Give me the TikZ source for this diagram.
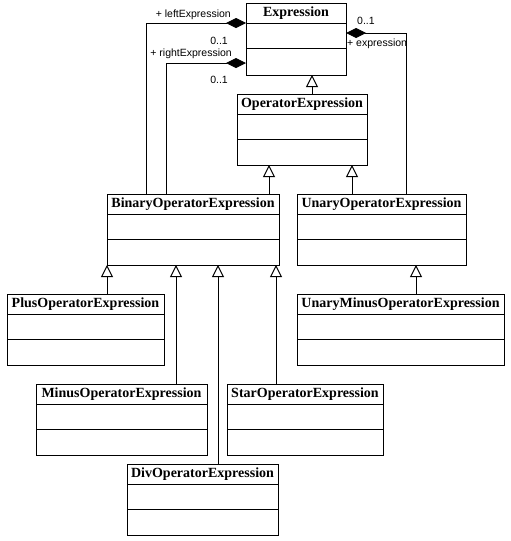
\documentclass[tikz,border=0pt]{standalone}
\usepackage{fontspec}
\setmainfont{Liberation Serif}
\newfontfamily\labelfont{Liberation Sans}
\usetikzlibrary{arrows.meta}

\tikzset{
  classbox/.style={draw, line width=1pt, inner sep=0pt, outer sep=0pt, fill=white},
  classtitle/.style={font=\fontsize{14}{16}\selectfont\bfseries, inner sep=0pt},
  rolelabel/.style={font=\labelfont\fontsize{10.5}{12}\selectfont, inner sep=0pt},
  gen/.style={line width=1pt, -{Triangle[open, width=12pt, length=12pt, line width=1pt]}},
  agg/.style={line width=1pt, {Diamond[width=10pt, length=20pt]}-},
}

% class box: name, left, top, right, bottom, title
\newcommand\umlclass[6]{%
  \node[classbox, anchor=north west, minimum width={#4-#2}, minimum height={#5-#3}] (#1) at (#2,#3) {};
  \draw[line width=1pt] ([yshift=-20pt]#1.north west) -- ([yshift=-20pt]#1.north east);
  \draw[line width=1pt] ([yshift=-45pt]#1.north west) -- ([yshift=-45pt]#1.north east);
  \node[classtitle] (#1-title) at ([yshift=-10.5pt]#1.north) {#6};
}

\begin{document}
\begin{tikzpicture}[x=1pt, y=-1pt]
  \fill[white] (0,0) rectangle (511,541);
  \useasboundingbox (0,0) rectangle (511,541);

  \umlclass{expr}{246}{3}{346}{75}{Expression}
  \umlclass{op}{237}{94}{367}{165}{OperatorExpression}
  \umlclass{bin}{107}{194}{279}{265}{BinaryOperatorExpression}
  \umlclass{un}{297}{194}{466}{265}{UnaryOperatorExpression}
  \umlclass{plus}{7}{294}{164}{365}{PlusOperatorExpression}
  \umlclass{umin}{297}{294}{504}{365}{UnaryMinusOperatorExpression}
  \umlclass{minus}{36}{384}{207}{455}{MinusOperatorExpression}
  \umlclass{star}{227}{384}{383}{455}{StarOperatorExpression}
  \umlclass{div}{127}{464}{278}{535}{DivOperatorExpression}

  % generalizations
  \draw[gen] (312,0 |- op.north) -- (312,0 |- expr.south);
  \draw[gen] (269,0 |- bin.north) -- (269,0 |- op.south);
  \draw[gen] (352,0 |- un.north) -- (352,0 |- op.south);
  \draw[gen] (plus.north west -| bin.south west) -- (bin.south west);
  \draw[gen] (176,0 |- minus.north) -- (176,0 |- bin.south);
  \draw[gen] (218,0 |- div.north) -- (218,0 |- bin.south);
  \draw[gen] (276,0 |- star.north) -- (276,0 |- bin.south);
  \draw[gen] (416,0 |- umin.north) -- (416,0 |- un.south);

  % aggregations
  \draw[agg] (expr.west |- 0,23) -| (146,0 |- bin.north);
  \draw[agg] (expr.west |- 0,63) -| (166,0 |- bin.north);
  \draw[agg] (expr.east |- 0,33) -| (406,0 |- un.north);

  % role names and multiplicities
  \node[rolelabel, anchor=east] (lrole) at (231,14.5) {+ leftExpression};
  \node[rolelabel, anchor=east] (lmult) at (228,40.5) {0..1};
  \node[rolelabel, anchor=east] (rrole) at (232,54) {+ rightExpression};
  \node[rolelabel, anchor=east] (rmult) at (228,80) {0..1};
  \node[rolelabel, anchor=west] (emult) at (357,20.5) {0..1};
  \node[rolelabel, anchor=west] (erole) at (347,44) {+ expression};
\end{tikzpicture}
\end{document}
